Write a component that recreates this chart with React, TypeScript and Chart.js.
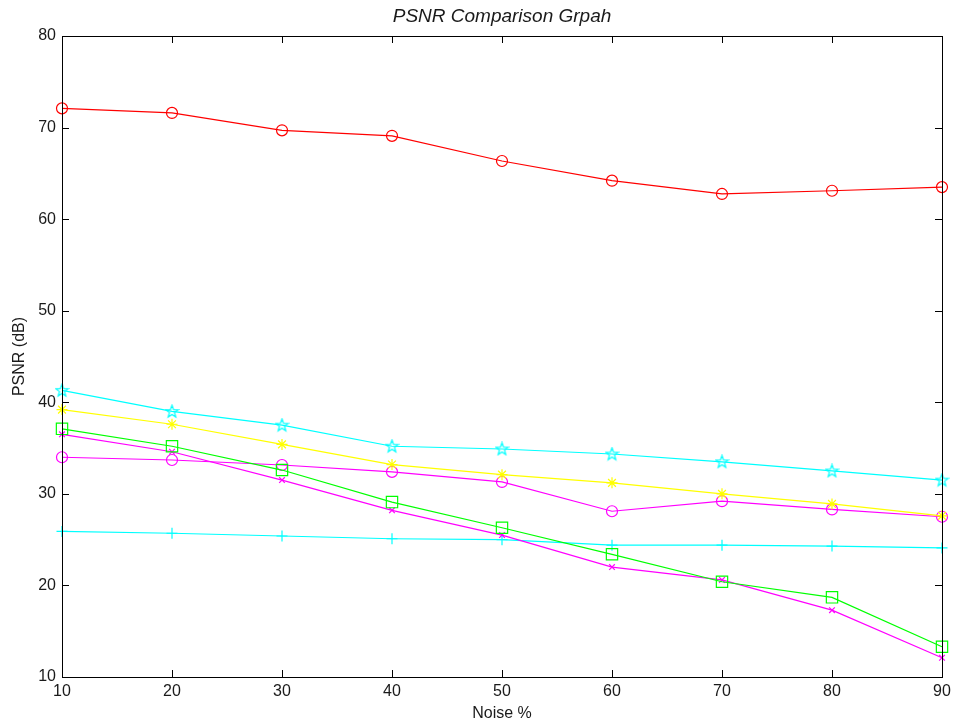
import React, { useEffect, useRef } from "react";
import { Chart, registerables } from "chart.js";

Chart.register(...registerables);

const noise = [10, 20, 30, 40, 50, 60, 70, 80, 90];
const redCircle = [72.1, 71.6, 69.7, 69.1, 66.35, 64.2, 62.75, 63.1, 63.5];
const cyanPentagram = [41.3, 39.0, 37.5, 35.2, 34.9, 34.35, 33.5, 32.5, 31.5];
const yellowStar = [39.2, 37.6, 35.4, 33.2, 32.1, 31.2, 30.0, 28.9, 27.6];
const greenSquare = [37.1, 35.2, 32.6, 29.1, 26.3, 23.4, 20.4, 18.7, 13.3];
const magentaX = [36.5, 34.6, 31.5, 28.2, 25.5, 22.0, 20.6, 17.3, 12.1];
const magentaCircle = [34.0, 33.7, 33.15, 32.4, 31.3, 28.1, 29.2, 28.3, 27.5];
const cyanPlus = [25.9, 25.7, 25.4, 25.1, 25.0, 24.4, 24.4, 24.3, 24.1];

const titleText = "PSNR Comparison Grpah";
const xTitle = "Noise %";
const yTitle = "PSNR (dB)";

function pentagram(color: string) {
  const c = document.createElement("canvas");
  c.width = 15;
  c.height = 15;
  const ctx = c.getContext("2d")!;
  ctx.strokeStyle = color;
  ctx.lineWidth = 1.2;
  ctx.beginPath();
  const cx = 7.5, cy = 7.8, R = 6.5, r = 2.7;
  for (let i = 0; i < 10; i++) {
    const a = -Math.PI / 2 + (i * Math.PI) / 5;
    const rad = i % 2 === 0 ? R : r;
    const px = cx + rad * Math.cos(a);
    const py = cy + rad * Math.sin(a);
    if (i === 0) ctx.moveTo(px, py);
    else ctx.lineTo(px, py);
  }
  ctx.closePath();
  ctx.stroke();
  return c;
}

const boxPlugin = {
  id: "boxPlugin",
  afterDraw(chart: any) {
    const { ctx, chartArea } = chart;
    const { left, right, top, bottom } = chartArea;
    ctx.save();
    ctx.strokeStyle = "#000";
    ctx.lineWidth = 1;
    ctx.strokeRect(Math.round(left) + 0.5, Math.round(top) + 0.5, Math.round(right - left), Math.round(bottom - top));
    const tl = 7;
    ctx.beginPath();
    chart.scales.x.ticks.forEach((t: any) => {
      const x = Math.round(chart.scales.x.getPixelForValue(t.value)) + 0.5;
      ctx.moveTo(x, bottom);
      ctx.lineTo(x, bottom - tl);
      ctx.moveTo(x, top);
      ctx.lineTo(x, top + tl);
    });
    chart.scales.y.ticks.forEach((t: any) => {
      const y = Math.round(chart.scales.y.getPixelForValue(t.value)) + 0.5;
      ctx.moveTo(left, y);
      ctx.lineTo(left + tl, y);
      ctx.moveTo(right, y);
      ctx.lineTo(right - tl, y);
    });
    ctx.stroke();
    ctx.fillStyle = "#1a1a1a";
    ctx.font = "italic 19px 'Liberation Sans', Arial, sans-serif";
    ctx.textAlign = "center";
    ctx.textBaseline = "middle";
    ctx.fillText(titleText, (left + right) / 2, 17);
    ctx.restore();
  },
};

export default function App() {
  const ref = useRef<HTMLCanvasElement>(null);
  useEffect(() => {
    document.body.style.margin = "0";
    const mk = (label: string, data: number[], color: string, pointStyle: any, radius: number) => ({
      label,
      data: noise.map((x, i) => ({ x, y: data[i] })),
      borderColor: color,
      backgroundColor: "rgba(0,0,0,0)",
      pointBorderColor: color,
      pointBackgroundColor: "rgba(0,0,0,0)",
      borderWidth: 1.2,
      pointBorderWidth: 1.2,
      pointStyle,
      pointRadius: radius,
      tension: 0,
      clip: false,
    });
    const tickFont = { family: "'Liberation Sans', Arial, sans-serif", size: 16 };
    const textColor = "#1a1a1a";
    const chart = new Chart(ref.current!, {
      type: "line",
      data: {
        datasets: [
          mk("Red", redCircle, "#ff0000", "circle", 5.5),
          mk("Cyan pentagram", cyanPentagram, "#00ffff", pentagram("#00ffff"), 6),
          mk("Yellow star", yellowStar, "#ffff00", "star", 5.5),
          mk("Green square", greenSquare, "#00ff00", "rect", 8),
          mk("Magenta x", magentaX, "#ff00ff", "crossRot", 4),
          mk("Magenta circle", magentaCircle, "#ff00ff", "circle", 5.5),
          mk("Cyan plus", cyanPlus, "#00ffff", "cross", 5.5),
        ],
      },
      options: {
        responsive: false,
        animation: false,
        devicePixelRatio: 1,
        layout: { padding: { top: 36, right: 15, left: 0, bottom: 0 } },
        plugins: { legend: { display: false }, tooltip: { enabled: false }, title: { display: false } },
        scales: {
          x: {
            type: "linear",
            min: 10,
            max: 90,
            ticks: { stepSize: 10, color: textColor, font: tickFont, padding: 5, maxRotation: 0 },
            grid: { display: true, drawOnChartArea: false, drawTicks: false, color: "rgba(0,0,0,0)" },
            border: { display: false },
            title: { display: true, text: xTitle, color: textColor, font: tickFont, padding: { top: 0, bottom: 3 } },
            afterFit: (s: any) => { s.height = 49; },
          },
          y: {
            type: "linear",
            min: 10,
            max: 80,
            ticks: { stepSize: 10, color: textColor, font: tickFont, padding: 6 },
            grid: { display: true, drawOnChartArea: false, drawTicks: false, color: "rgba(0,0,0,0)" },
            border: { display: false },
            title: { display: true, text: yTitle, color: textColor, font: tickFont, padding: { top: 10, bottom: 0 } },
            afterFit: (s: any) => { s.width = 62; },
          },
        },
      },
      plugins: [boxPlugin],
    } as any);
    return () => chart.destroy();
  }, []);
  return (
    <canvas
      ref={ref}
      width={957}
      height={726}
      style={{ position: "absolute", left: 0, top: 0, display: "block", background: "#fff" }}
    />
  );
}
